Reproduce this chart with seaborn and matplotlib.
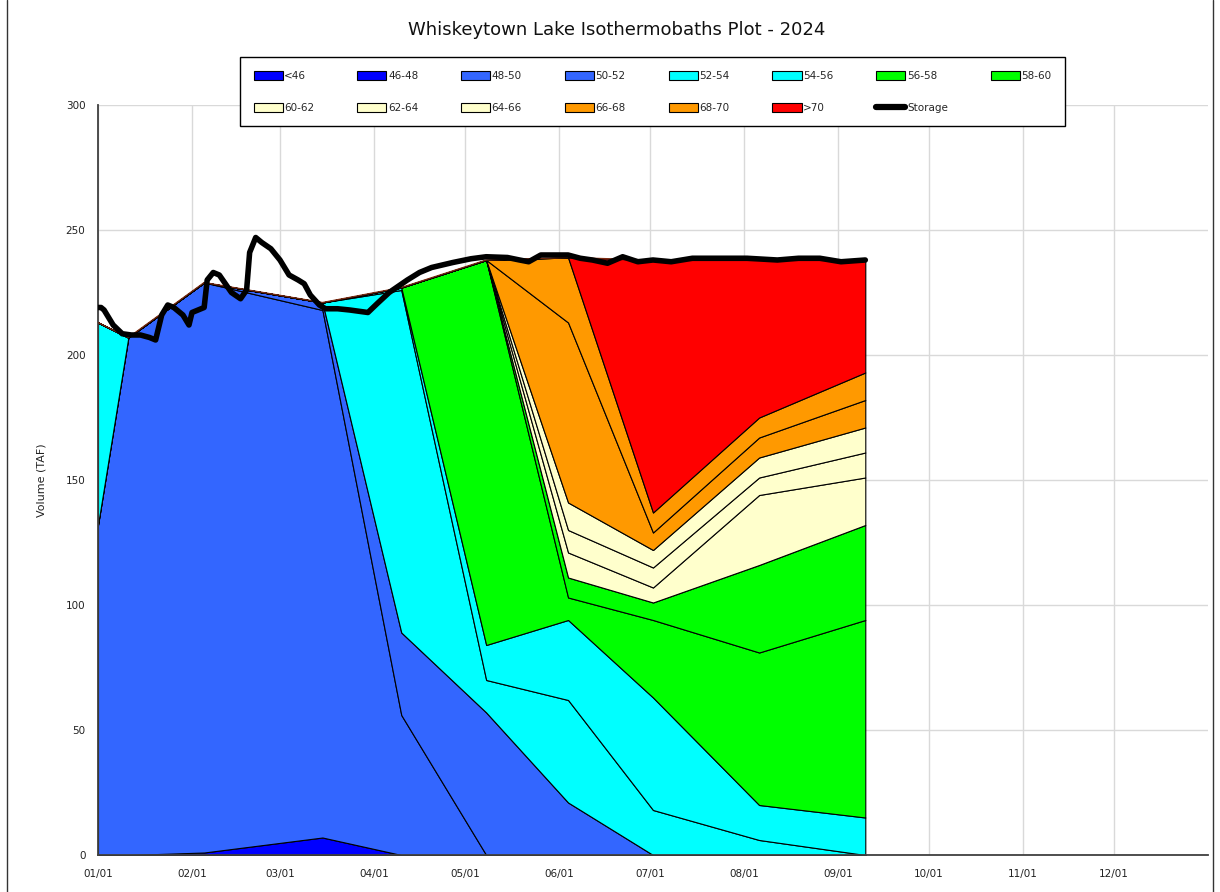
import numpy as np
import pandas as pd
import seaborn as sns
import matplotlib.pyplot as plt
import matplotlib.dates as mdates
from matplotlib.lines import Line2D

# profile sampling dates
sample_dates = ['2024-01-01', '2024-01-11', '2024-02-05', '2024-03-15', '2024-04-10',
                '2024-05-08', '2024-06-04', '2024-07-02', '2024-08-06', '2024-09-10']

bands = ['<46', '46-48', '48-50', '50-52', '52-54', '54-56', '56-58', '58-60',
         '60-62', '62-64', '64-66', '66-68', '68-70', '>70']
band_colors = ['#0000FF', '#0000FF', '#3366FF', '#3366FF', '#00FFFF', '#00FFFF',
               '#00FF00', '#00FF00', '#FFFFCC', '#FFFFCC', '#FFFFCC', '#FF9900',
               '#FF9900', '#FF0000']

# volume in each temperature band (TAF)
lt46 = [0, 0, 0, 0, 0, 0, 0, 0, 0, 0]
t46_48 = [0, 0, 1, 7, 0, 0, 0, 0, 0, 0]
t48_50 = [132, 207, 228, 211, 56, 0, 0, 0, 0, 0]
t50_52 = [0, 0, 0, 3, 33, 57, 21, 0, 0, 0]
t52_54 = [81, 0, 0, 0, 137, 13, 41, 18, 6, 0]
t54_56 = [0, 0, 0, 0, 1, 14, 32, 45, 14, 15]
t56_58 = [0, 0, 0, 0, 0, 154, 9, 31, 61, 79]
t58_60 = [0, 0, 0, 0, 0, 0, 8, 7, 35, 38]
t60_62 = [0, 0, 0, 0, 0, 0, 10, 6, 28, 19]
t62_64 = [0, 0, 0, 0, 0, 0, 9, 8, 7, 10]
t64_66 = [0, 0, 0, 0, 0, 0, 11, 7, 8, 10]
t66_68 = [0, 0, 0, 0, 0, 0, 72, 7, 8, 11]
t68_70 = [0, 0, 0, 0, 0, 0, 26, 8, 8, 11]
gt70 = [0, 0, 0, 0, 0, 0, 0, 101, 63, 45]

layers = [lt46, t46_48, t48_50, t50_52, t52_54, t54_56, t56_58, t58_60,
          t60_62, t62_64, t64_66, t66_68, t68_70, gt70]

# reservoir storage (day of year from Jan 1, TAF)
storage_day = [0, 1, 2, 5, 8, 11, 14, 17, 19, 21, 23, 25, 28, 30, 31, 34, 35, 36, 38,
               40, 42, 44, 47, 49, 50, 52, 54, 57, 60, 63, 66, 68, 70, 73, 75, 79, 83,
               89, 92, 96, 102, 106, 110, 117, 123, 128, 135, 139, 142, 146, 150, 155,
               159, 163, 168, 173, 178, 183, 189, 196, 205, 214, 224, 231, 238, 245, 253]
storage_taf = [219, 219, 218, 212, 208.5, 208, 208, 207, 206, 216, 220, 219, 216, 212,
               217, 218.5, 219, 230, 233, 232, 228.5, 225, 222.5, 226, 241, 247, 245,
               242.5, 238, 232, 230, 228.5, 224, 220, 218.5, 218.5, 218, 217, 220.5,
               225, 230, 233, 235, 237, 238.5, 239.3, 239, 238, 237.3, 240, 240, 240,
               238.7, 238, 236.7, 239.3, 237.3, 238, 237.3, 238.7, 238.7, 238.7, 238,
               238.7, 238.7, 237.3, 238]

month_ticks = pd.date_range('2024-01-01', '2024-12-01', freq='MS')

sns.set_theme(style="white")
plt.rcParams['font.family'] = ['DejaVu Sans']

W, H = 1220, 892
fig = plt.figure(figsize=(W / 100, H / 100), dpi=100)
ax = fig.add_axes([98 / W, 37 / H, 1110 / W, 750 / H])

x = pd.to_datetime(sample_dates)
polys = ax.stackplot(x, *layers, colors=band_colors, labels=bands,
                     edgecolor='black', linewidth=0.8, zorder=2)
ax.plot(x, np.sum(layers, axis=0), color='#7a2a10', lw=0.9, zorder=3)

storage_dates = pd.Timestamp('2024-01-01') + pd.to_timedelta(storage_day, unit='D')
sns.lineplot(x=storage_dates, y=storage_taf, ax=ax, color='black', lw=4,
             legend=False, solid_capstyle='round', solid_joinstyle='round', zorder=5)

ax.set_xlim(pd.Timestamp('2024-01-01'), pd.Timestamp('2025-01-01'))
ax.set_ylim(0, 300)
ax.set_yticks(range(0, 301, 50))
ax.set_xticks(month_ticks)
ax.xaxis.set_major_formatter(mdates.DateFormatter('%m/%d'))
ax.set_xlabel('')
ax.set_ylabel('Volume (TAF)', fontsize=8, labelpad=14, color='#222222')
ax.tick_params(axis='both', length=0, labelsize=7.5, colors='#222222')
ax.tick_params(axis='x', pad=10)
ax.tick_params(axis='y', pad=9)
ax.grid(True, color='#d9d9d9', lw=1)
ax.set_axisbelow(True)
for side in ['top', 'right']:
    ax.spines[side].set_visible(False)
for side in ['left', 'bottom']:
    ax.spines[side].set_color('#404040')
    ax.spines[side].set_linewidth(1.3)

fig.text(617 / W, 1 - 30 / H, 'Whiskeytown Lake Isothermobaths Plot - 2024',
         ha='center', va='center', fontsize=13, color='#111111')

# legend, filled row by row
storage_handle = Line2D([], [], color='black', lw=4.5, solid_capstyle='round')
handles = list(polys) + [storage_handle]
labels = bands + ['Storage']
order = [0, 8, 1, 9, 2, 10, 3, 11, 4, 12, 5, 13, 6, 14, 7]
leg = fig.legend([handles[i] for i in order], [labels[i] for i in order],
                 ncol=8, loc='upper left', mode='expand',
                 bbox_to_anchor=(240 / W, 1 - 124 / H, 825 / W, 67 / H),
                 bbox_transform=fig.transFigure, borderaxespad=0,
                 fontsize=7.5, handlelength=2.8, handleheight=1.0,
                 handletextpad=0.15, labelspacing=2.1, borderpad=1.3,
                 fancybox=False, framealpha=1, edgecolor='black')
leg.get_frame().set_linewidth(1.0)

# outer frame
fig.add_artist(Line2D([7 / W, 7 / W], [0, 1], color='#333333', lw=1))
fig.add_artist(Line2D([1213 / W, 1213 / W], [0, 1], color='#333333', lw=1))

fig.savefig('out.png', dpi=100)
